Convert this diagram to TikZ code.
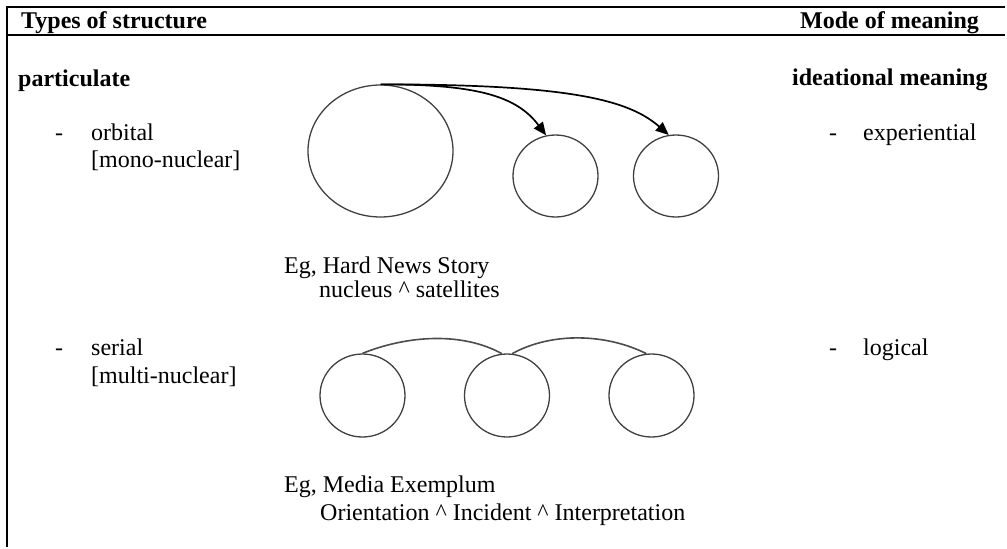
\documentclass[tikz,border=0pt]{standalone}
\usepackage{fontspec}
\setmainfont{Liberation Serif}
\usetikzlibrary{shapes.geometric,arrows.meta}
\begin{document}
\begin{tikzpicture}[x=1pt,y=-1pt,
  txt/.style={anchor=base west,inner sep=0pt,font=\fontsize{24}{28}\selectfont},
  head/.style={anchor=base west,inner sep=0pt,font=\fontsize{24}{28}\selectfont\bfseries},
  ring/.style={draw=black!75,line width=1.3pt,ellipse,inner sep=0pt},
  link/.style={draw=black,line width=1.7pt,-{Triangle[length=13pt,width=11pt]}},
  chain/.style={draw=black!70,line width=1.6pt},
  frame/.style={line width=1.6pt}]
\useasboundingbox (0,0) rectangle (1007,549);

% table frame: top rule, header rule, left rule
\draw[frame] (1005,7) -- (7,7) -- (7,547);
\draw[frame] (7,35) -- (1005,35);

% column headings
\node[head] (hleft)  at (21,28)  {Types of structure};
\node[head] (hright) at (800,28) {Mode of meaning};

% left column
\node[head] (part) at (18,86) {particulate};
\node[txt] (d1) at (55,140) {-};
\node[txt] (orb) at (91,140) {orbital};
\node[txt] (mono) at (91,167) {[mono-nuclear]};
\node[txt] (d2) at (55,355) {-};
\node[txt] (ser) at (91,355) {serial};
\node[txt] (multi) at (91,383) {[multi-nuclear]};

% right column
\node[head] (idea) at (792,85) {ideational meaning};
\node[txt] (d3) at (829,140) {-};
\node[txt] (exp) at (863,140) {experiential};
\node[txt] (d4) at (829,355) {-};
\node[txt] (log) at (863,355) {logical};

% orbital structure: nucleus with satellites
\node[ring,minimum width=145pt,minimum height=132pt] (nuc) at (380.5,151) {};
\node[ring,minimum width=85pt,minimum height=82pt] (sat1) at (555.5,176) {};
\node[ring,minimum width=85pt,minimum height=82pt] (sat2) at (676,176) {};
\draw[link] (nuc.north) .. controls +(95,0) and +(-30,-40) .. (sat1.103);
\draw[link] (nuc.north) .. controls +(190,0) and +(-40,-35) .. (sat2.100);

\node[txt] (eg1) at (284,273) {Eg, Hard News Story};
\node[txt] (eg1b) at (319,297) {nucleus \^{} satellites};

% serial structure: chained nuclei
\node[ring,minimum width=85pt,minimum height=83pt] (s1) at (362.5,395.5) {};
\node[ring,minimum width=85pt,minimum height=83pt] (s2) at (507,395.5) {};
\node[ring,minimum width=85pt,minimum height=83pt] (s3) at (651.5,395.5) {};
\draw[chain] (s1.north) .. controls +(45,-18) and +(-40,-22) .. (s2.97);
\draw[chain] (s2.83) .. controls +(40,-22) and +(-40,-20) .. (s3.97);

\node[txt] (eg2) at (284,492) {Eg, Media Exemplum};
\node[txt] (eg2b) at (320,520) {Orientation \^{} Incident \^{} Interpretation};
\end{tikzpicture}
\end{document}
